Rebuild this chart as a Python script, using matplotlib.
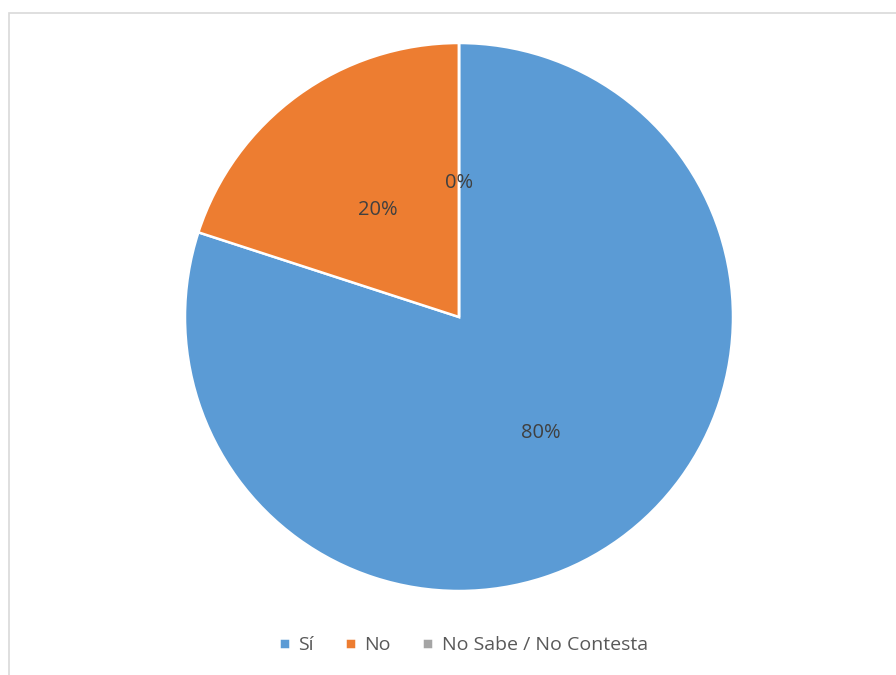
import matplotlib.pyplot as plt
from matplotlib.patches import Rectangle

labels = ['Sí', 'No', 'No Sabe / No Contesta']
values = [80, 20, 0]
colors = ['#5B9BD5', '#ED7D31', '#A5A5A5']

plt.rcParams['font.family'] = ['Open Sans', 'DejaVu Sans']

fig = plt.figure(figsize=(8.96, 6.75), dpi=100)
ax = fig.add_axes([0, 0, 1, 1])

wedges, texts, autotexts = ax.pie(
    values, colors=colors, startangle=90, counterclock=False,
    center=(459, 358), radius=274, frame=True,
    autopct='%1.0f%%', pctdistance=0.505,
    wedgeprops=dict(edgecolor='white', linewidth=1.8),
    textprops=dict(color='#404040', fontsize=14.5),
)
# nudge the percentage labels down a little
for t in autotexts:
    x, y = t.get_position()
    t.set_position((x, y - 4.5))

# chart area border (right/bottom run off the canvas)
ax.add_patch(Rectangle((8.5, -20), 1000, 675 - 12.5 + 20, fill=False,
                       edgecolor='#D9D9D9', linewidth=1.2))

ax.set_xlim(0, 896)
ax.set_ylim(0, 675)
ax.set_aspect('equal')
ax.axis('off')

ax.legend(wedges, labels, ncol=3, loc='center', bbox_to_anchor=(0.517, 0.044),
          frameon=False, handlelength=0.55, handleheight=0.55, handletextpad=0.45,
          columnspacing=1.6, prop=dict(size=14),
          labelcolor='#595959')

fig.savefig('out.png', dpi=100)
